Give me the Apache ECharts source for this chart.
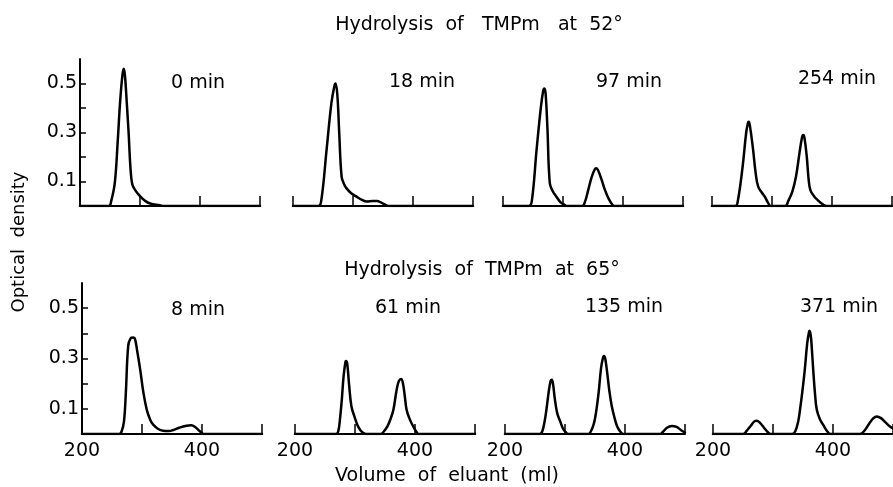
<!DOCTYPE html>
<html>
<head>
<meta charset="utf-8">
<script src="https://cdn.jsdelivr.net/npm/echarts@6/dist/echarts.min.js"></script>
<style>html,body{margin:0;padding:0;background:#fff;}#c{width:893px;height:487px;}</style>
</head>
<body>
<div id="c"></div>
<script>
// ---- data (volume of eluant in ml, optical density) ----
const t52_0 = [[200,0],[248,0],[252,0.02],[258,0.094],[263,0.27],[267,0.43],[271,0.54],[273,0.56],[275,0.53],[278,0.42],[281,0.30],[284,0.16],[287,0.09],[292,0.065],[300,0.04],[308,0.022],[317,0.01],[333,0.003],[340,0],[500,0]];
const t52_18 = [[200,0],[242,0],[247,0.02],[256,0.23],[264,0.42],[269,0.49],[271,0.50],[274,0.45],[277,0.30],[281,0.12],[285,0.09],[289,0.073],[297,0.052],[306,0.038],[315,0.025],[323,0.018],[333,0.02],[340,0.02],[347,0.014],[353,0.006],[361,0],[500,0]];
const t52_97 = [[200,0],[243,0],[248,0.02],[256,0.23],[263,0.40],[267,0.47],[269,0.48],[271,0.46],[274,0.32],[278,0.093],[283,0.06],[289,0.038],[296,0.015],[303,0.004],[306,0],[332,0],[337,0.02],[342,0.065],[348,0.12],[353,0.15],[355,0.154],[358,0.148],[364,0.11],[370,0.065],[376,0.03],[383,0.003],[386,0],[500,0]];
const t52_254 = [[200,0],[239,0],[243,0.02],[251,0.16],[257,0.30],[260,0.34],[261,0.344],[263,0.33],[268,0.24],[273,0.13],[277,0.079],[283,0.055],[288,0.038],[293,0.015],[298,0],[322,0],[327,0.02],[334,0.06],[340,0.12],[346,0.22],[350,0.28],[352,0.29],[354,0.28],[358,0.2],[361,0.11],[364,0.065],[370,0.04],[377,0.022],[384,0.008],[391,0],[500,0]];
const t65_8 = [[200,0],[262,0],[266,0.01],[270,0.05],[273,0.16],[277,0.35],[281,0.38],[285,0.383],[288,0.38],[292,0.33],[297,0.256],[302,0.17],[308,0.096],[314,0.055],[319,0.036],[327,0.02],[335,0.013],[345,0.012],[352,0.016],[362,0.025],[374,0.033],[382,0.035],[390,0.025],[397,0.01],[403,0],[500,0]];
const t65_61 = [[200,0],[268,0],[272,0.01],[275,0.06],[278,0.136],[281,0.23],[284,0.285],[285,0.29],[287,0.28],[290,0.2],[294,0.11],[299,0.07],[304,0.036],[309,0.015],[314,0.004],[318,0],[343,0],[348,0.01],[354,0.03],[360,0.065],[364,0.096],[369,0.17],[373,0.21],[377,0.219],[380,0.2],[383,0.15],[386,0.096],[391,0.06],[397,0.03],[402,0.01],[406,0],[500,0]];
const t65_135 = [[200,0],[258,0],[262,0.01],[266,0.05],[269,0.096],[273,0.17],[276,0.21],[278,0.216],[280,0.2],[283,0.14],[287,0.083],[292,0.05],[297,0.02],[302,0.005],[305,0],[339,0],[343,0.01],[348,0.04],[352,0.09],[356,0.163],[360,0.26],[363,0.3],[365,0.31],[367,0.3],[370,0.25],[374,0.17],[378,0.11],[383,0.06],[387,0.03],[392,0.01],[397,0],[458,0],[463,0.008],[470,0.025],[478,0.032],[486,0.028],[493,0.016],[500,0.006]];
const t65_371 = [[200,0],[250,0],[256,0.012],[263,0.033],[269,0.05],[273,0.053],[278,0.045],[285,0.025],[291,0.008],[296,0],[332,0],[337,0.01],[342,0.05],[345,0.096],[349,0.17],[353,0.256],[357,0.36],[360,0.405],[361,0.41],[363,0.39],[365,0.33],[367,0.256],[370,0.16],[373,0.096],[378,0.06],[384,0.035],[390,0.012],[396,0],[445,0],[452,0.012],[460,0.04],[467,0.062],[473,0.07],[480,0.063],[488,0.045],[495,0.03],[500,0.022]];

const panelSeries = [t52_0, t52_18, t52_97, t52_254, t65_8, t65_61, t65_135, t65_371];
const panelLabels = ['0 min', '18 min', '97 min', '254 min', '8 min', '61 min', '135 min', '371 min'];
const rowTitles = ['Hydrolysis  of   TMPm   at  52°', 'Hydrolysis  of  TMPm  at  65°'];
const volumeTicks = [200, 300, 400, 500];
const volumeLabels = [200, 400];
const odTicks = [0.1, 0.2, 0.3, 0.4, 0.5];
const odLabels = [0.1, 0.3, 0.5];
const xTitle = 'Volume  of  eluant  (ml)';
const yTitle = 'Optical  density';

// ---- layout ----
const FONT = 'DejaVu Sans';
const lefts = [[80, 293, 503, 712], [82, 295, 505, 713]];
const tops = [59, 283];
const heights = [147, 151];
const W = 180;
const labelPos = [[198, 83], [422, 82], [629, 82], [837, 79], [198, 310], [408, 308], [624, 307], [839, 307]];

const grids = [], xAxes = [], yAxes = [], series = [], graphics = [];
for (let i = 0; i < 8; i++) {
  const r = Math.floor(i / 4), c = i % 4;
  grids.push({ left: lefts[r][c], top: tops[r], width: W, height: heights[r], containLabel: false });
  xAxes.push({
    type: 'value', gridIndex: i, min: 200, max: 500,
    axisLine: { show: true, onZero: false, lineStyle: { color: '#000', width: 2 } },
    axisTick: { show: true, inside: true, length: 10, customValues: volumeTicks, lineStyle: { color: '#000', width: 1.5 } },
    axisLabel: { show: r === 1, customValues: volumeLabels, margin: 8, color: '#000', fontFamily: FONT, fontSize: 19 },
    splitLine: { show: false }
  });
  yAxes.push({
    type: 'value', gridIndex: i, min: 0, max: 0.6, show: c === 0,
    axisLine: { show: true, lineStyle: { color: '#000', width: 2 } },
    axisTick: { show: true, inside: true, length: 6, customValues: odTicks, lineStyle: { color: '#000', width: 1.5 } },
    axisLabel: { show: true, customValues: odLabels, margin: 3, color: '#000', fontFamily: FONT, fontSize: 19, formatter: v => v.toFixed(1) },
    splitLine: { show: false }
  });
  series.push({
    type: 'line', xAxisIndex: i, yAxisIndex: i, data: panelSeries[i],
    symbol: 'none', smooth: 0.4, z: 5,
    lineStyle: { color: '#000', width: 2.5, join: 'round', cap: 'round' }
  });
  graphics.push({ type: 'text', x: labelPos[i][0], y: labelPos[i][1],
    style: { text: panelLabels[i], fill: '#000', font: '19px "' + FONT + '"', textAlign: 'center', textVerticalAlign: 'middle' } });
}
graphics.push({ type: 'text', x: 479, y: 25, style: { text: rowTitles[0], fill: '#000', font: '19px "' + FONT + '"', textAlign: 'center', textVerticalAlign: 'middle' } });
graphics.push({ type: 'text', x: 482, y: 270, style: { text: rowTitles[1], fill: '#000', font: '19px "' + FONT + '"', textAlign: 'center', textVerticalAlign: 'middle' } });
graphics.push({ type: 'text', x: 447, y: 476, style: { text: xTitle, fill: '#000', font: '19px "' + FONT + '"', textAlign: 'center', textVerticalAlign: 'middle' } });
graphics.push({ type: 'text', x: 19, y: 242, rotation: Math.PI / 2, style: { text: yTitle, fill: '#000', font: '18px "' + FONT + '"', textAlign: 'center', textVerticalAlign: 'middle' } });

const chart = echarts.init(document.getElementById('c'), null, { renderer: 'canvas' });
chart.setOption({
  animation: false,
  backgroundColor: '#fff',
  grid: grids, xAxis: xAxes, yAxis: yAxes, series: series, graphic: graphics
});
</script>
</body>
</html>
